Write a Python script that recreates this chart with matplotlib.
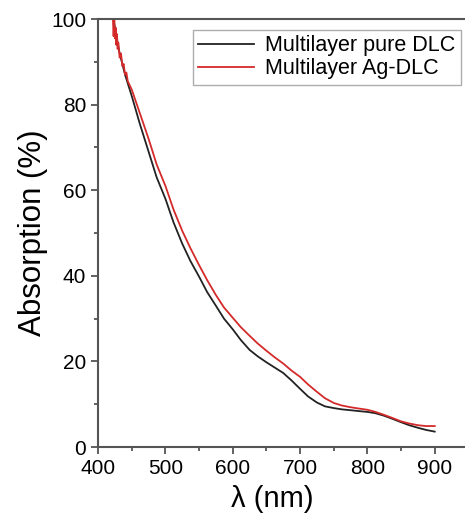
import matplotlib.pyplot as plt
from matplotlib.ticker import MultipleLocator

plt.rcParams['font.family'] = ['Liberation Sans', 'DejaVu Sans']

# wavelength (nm) and absorption (%)
wl_pure = [423, 427, 432, 440, 450, 462, 475, 487, 500, 512, 525, 537, 550, 562,
           575, 587, 600, 612, 625, 637, 650, 662, 675, 687, 700, 712, 725, 737,
           750, 762, 775, 787, 800, 812, 825, 837, 850, 862, 875, 887, 900]
abs_pure = [100, 96, 92, 87, 82, 75.5, 69, 63, 58, 52.5, 47.5, 43.5, 39.8, 36.2,
            33, 30, 27.5, 25, 22.7, 21.2, 19.8, 18.6, 17.3, 15.6, 13.6, 11.8, 10.4, 9.5,
            9.1, 8.8, 8.6, 8.4, 8.2, 7.9, 7.3, 6.6, 5.8, 5.1, 4.5, 4.0, 3.6]

wl_ag = [422, 423, 424, 425, 426, 427, 428, 429, 430, 432, 434, 436, 438, 440, 442,
         444, 447, 450, 462, 475, 487, 500, 512, 525, 537, 550, 562, 575, 587,
         600, 612, 625, 637, 650, 662, 675, 687, 700, 712, 725, 737, 750, 762,
         775, 787, 800, 812, 825, 837, 850, 862, 875, 887, 900]
abs_ag = [100, 96, 100, 95.5, 98, 94, 96.5, 93, 94.5, 91, 92, 89, 89.5, 87, 87.5,
          85.5, 84.5, 83.5, 78, 72, 66, 61, 55.5, 50.5, 46.5, 42.5, 39, 35.5, 32.6,
          30.2, 28, 26, 24.2, 22.5, 21, 19.5, 17.9, 16.4, 14.6, 12.9, 11.4, 10.3, 9.7,
          9.3, 9.0, 8.7, 8.2, 7.5, 6.8, 6.0, 5.5, 5.1, 4.9, 4.9]

fig = plt.figure(figsize=(4.65, 5.15), dpi=100)
ax = fig.add_axes([0.211, 0.132, 0.789, 0.831])

ax.plot(wl_pure, abs_pure, color='#222222', lw=1.3, label='Multilayer pure DLC')
ax.plot(wl_ag, abs_ag, color='#d42a2a', lw=1.3, label='Multilayer Ag-DLC')

ax.set_xlim(400, 945)
ax.set_ylim(0, 100)
ax.xaxis.set_major_locator(MultipleLocator(100))
ax.xaxis.set_minor_locator(MultipleLocator(50))
ax.yaxis.set_major_locator(MultipleLocator(20))
ax.yaxis.set_minor_locator(MultipleLocator(10))

ax.spines['right'].set_visible(False)
for s in ['left', 'bottom', 'top']:
    ax.spines[s].set_color('#555555')
    ax.spines[s].set_linewidth(1.5)
ax.tick_params(which='both', direction='out', color='#555555', width=1.3,
               labelsize=15, top=False, right=False)
ax.tick_params(which='major', length=5)
ax.tick_params(which='minor', length=3)

ax.set_xlabel('λ (nm)', fontsize=21, labelpad=5, x=0.474)
ax.set_ylabel('Absorption (%)', fontsize=22.5, labelpad=2)

leg = ax.legend(loc='upper right', fontsize=15.5, fancybox=False, handlelength=2.6,
                borderaxespad=0.2, handletextpad=0.5, labelspacing=0.1,
                borderpad=0.25, bbox_to_anchor=(1.0, 0.985))
leg.get_frame().set_edgecolor('#999999')
leg.get_frame().set_linewidth(1.0)

fig.savefig('out.png', dpi=100)
